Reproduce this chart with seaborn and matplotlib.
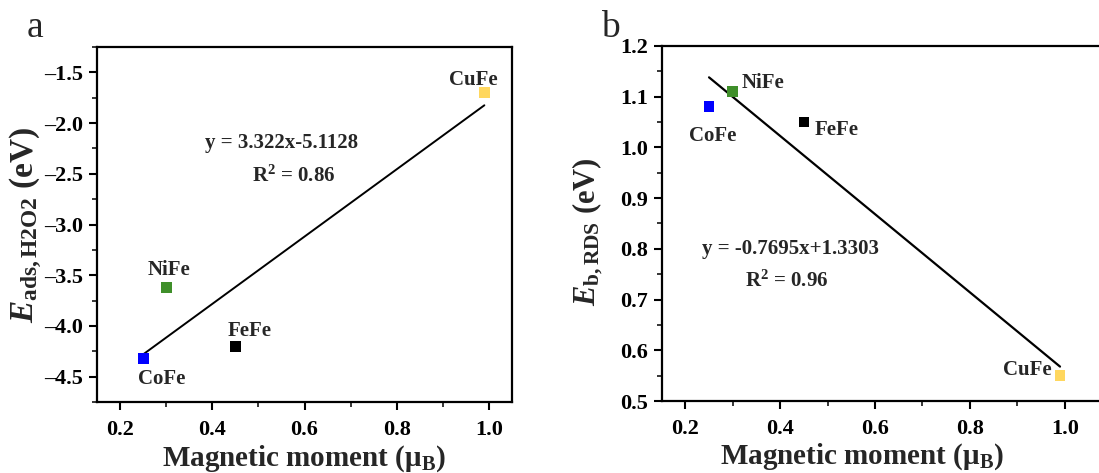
import matplotlib
matplotlib.use("Agg")
import matplotlib.pyplot as plt
from matplotlib.ticker import MultipleLocator, FuncFormatter
import seaborn as sns
import pandas as pd

# ---- data ----
alloys = ["CoFe", "NiFe", "FeFe", "CuFe"]
magnetic_moment = [0.25, 0.30, 0.45, 0.99]
e_ads = [-4.32, -3.62, -4.20, -1.70]
e_b = [1.08, 1.11, 1.05, 0.55]
colors = ["#0000FF", "#3F8F2A", "#000000", "#FFD75E"]

fit_x = [0.25, 0.99]
fit_a_y = [-4.28, -1.824]
fit_b_y = [1.138, 0.568]

eq_a = "y = 3.322x-5.1128"
r2_a = "R$^\\mathregular{2}$ = 0.86"
eq_b = "y = -0.7695x+1.3303"
r2_b = "R$^\\mathregular{2}$ = 0.96"

sns.set_theme(style="ticks")
plt.rcParams["font.family"] = ["Liberation Serif", "DejaVu Serif"]
plt.rcParams["font.weight"] = "bold"
plt.rcParams["axes.unicode_minus"] = False
plt.rcParams["mathtext.fontset"] = "custom"
plt.rcParams["mathtext.rm"] = "Liberation Serif:bold"
plt.rcParams["mathtext.bf"] = "Liberation Serif:bold"
plt.rcParams["mathtext.it"] = "Liberation Serif:italic:bold"

df = pd.DataFrame({"alloy": alloys, "mm": magnetic_moment, "ea": e_ads, "eb": e_b})
pal = dict(zip(alloys, colors))

fig = plt.figure(figsize=(10.99, 4.73), dpi=100)
ax1 = fig.add_axes([0.0883, 0.150, 0.3776, 0.7505])
ax2 = fig.add_axes([0.602, 0.152, 0.410, 0.751])

dash_fmt = FuncFormatter(lambda v, p: f"{v:.1f}".replace("-", "\u2013"))

def style(ax):
    for s in ax.spines.values():
        s.set_linewidth(1.6)
        s.set_color("black")
    ax.tick_params(axis="both", which="major", direction="out", length=6, width=1.5,
                   labelsize=16, pad=4, colors="black")
    ax.tick_params(axis="x", which="major", pad=7)
    ax.tick_params(axis="both", which="minor", direction="out", length=3.5, width=1.3)
    ax.tick_params(top=False, right=False, which="both")
    for lab in ax.get_xticklabels() + ax.get_yticklabels():
        lab.set_fontweight("bold")

# panel a
sns.lineplot(x=fit_x, y=fit_a_y, ax=ax1, color="black", lw=1.4)
sns.scatterplot(data=df, x="mm", y="ea", hue="alloy", palette=pal, marker="s", s=60,
                edgecolor="none", ax=ax1, legend=False, zorder=3)
ax1.set_xlim(0.15, 1.05)
ax1.set_ylim(-4.75, -1.25)
ax1.set_xticks([0.2, 0.4, 0.6, 0.8, 1.0])
ax1.xaxis.set_minor_locator(MultipleLocator(0.1))
ax1.set_yticks([-4.5, -4.0, -3.5, -3.0, -2.5, -2.0, -1.5])
ax1.yaxis.set_minor_locator(MultipleLocator(0.25))
ax1.yaxis.set_major_formatter(dash_fmt)
ax1.set_xlabel("Magnetic moment (μ$_\\mathregular{B}$)", fontsize=21, fontweight="bold", labelpad=2)
ax1.set_ylabel("$\\mathit{E}_\\mathregular{ads,H2O2}$ (eV)", fontsize=24, fontweight="bold")
ax1.yaxis.set_label_coords(-0.128, 0.5)
style(ax1)
lbl_a = {"CuFe": (0.966, -1.57), "NiFe": (0.305, -3.447), "FeFe": (0.48, -4.053), "CoFe": (0.29, -4.52)}
for k, (x, y) in lbl_a.items():
    ax1.text(x, y, k, fontsize=15, fontweight="bold", ha="center", va="center")
ax1.text(0.551, -2.195, eq_a, fontsize=15, fontweight="bold", ha="center", va="center")
ax1.text(0.577, -2.52, r2_a, fontsize=15, fontweight="bold", ha="center", va="center")

# panel b
sns.lineplot(x=fit_x, y=fit_b_y, ax=ax2, color="black", lw=1.6)
sns.scatterplot(data=df, x="mm", y="eb", hue="alloy", palette=pal, marker="s", s=60,
                edgecolor="none", ax=ax2, legend=False, zorder=3)
ax2.set_xlim(0.15, 1.10)
ax2.set_ylim(0.5, 1.2)
ax2.set_xticks([0.2, 0.4, 0.6, 0.8, 1.0])
ax2.xaxis.set_minor_locator(MultipleLocator(0.1))
ax2.set_yticks([0.5, 0.6, 0.7, 0.8, 0.9, 1.0, 1.1, 1.2])
ax2.yaxis.set_minor_locator(MultipleLocator(0.05))
ax2.set_xlabel("Magnetic moment (μ$_\\mathregular{B}$)", fontsize=21, fontweight="bold", labelpad=2)
ax2.xaxis.set_label_coords(0.446, -0.112)
ax2.set_ylabel("$\\mathit{E}_\\mathregular{b,RDS}$ (eV)", fontsize=22, fontweight="bold")
ax2.yaxis.set_label_coords(-0.125, 0.477)
style(ax2)
lbl_b = {"NiFe": (0.363, 1.126), "CoFe": (0.258, 1.022), "FeFe": (0.52, 1.035), "CuFe": (0.921, 0.561)}
for k, (x, y) in lbl_b.items():
    ax2.text(x, y, k, fontsize=15, fontweight="bold", ha="center", va="center")
ax2.text(0.422, 0.799, eq_b, fontsize=15, fontweight="bold", ha="center", va="center")
ax2.text(0.413, 0.736, r2_b, fontsize=15, fontweight="bold", ha="center", va="center")

fig.text(27 / 1099, 1 - 37 / 473, "a", fontsize=27, fontweight="normal", ha="left", va="baseline")
fig.text(601 / 1099, 1 - 37 / 473, "b", fontsize=27, fontweight="normal", ha="left", va="baseline")

fig.savefig("out.png", dpi=100)
